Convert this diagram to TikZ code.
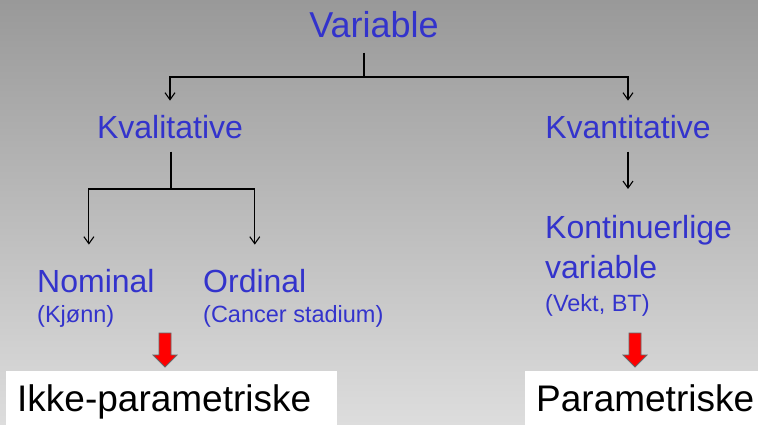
\documentclass[tikz,border=0pt]{standalone}
\usepackage{fontspec}
\setmainfont{Liberation Sans}
\usepackage{tikz}
\usetikzlibrary{arrows.meta}
\definecolor{blue500}{HTML}{3333CC}
\definecolor{gray400}{HTML}{999999}
\definecolor{gray200}{HTML}{DDDDDD}
\definecolor{red500}{HTML}{FF0000}
\tikzstyle{tittel}=[text=blue500, inner sep=0pt, anchor=base, font=\fontsize{36}{42}\selectfont]
\tikzstyle{gruppe}=[text=blue500, inner sep=0pt, font=\fontsize{32}{40}\selectfont]
\tikzstyle{eksempel}=[text=blue500, inner sep=0pt, anchor=base west, font=\fontsize{23.5}{28}\selectfont]
\tikzstyle{resultat}=[fill=white, anchor=north west, inner xsep=11pt, inner ysep=0pt, minimum height=54pt, text depth=0pt, align=left, font=\fontsize{37}{42}\selectfont]
\tikzstyle{linje}=[draw=black, line width=1.1pt]
\tikzstyle{pil}=[linje, -{Straight Barb[length=7pt, width=10pt]}]
\tikzstyle{rodpil}=[fill=red500, draw=black!60, line width=0.8pt]

\begin{document}
\begin{tikzpicture}[x=1pt, y=-1pt]
		\useasboundingbox (0,0) rectangle (758,425);
		\shade[top color=gray400, bottom color=gray200] (0,0) rectangle (758,425);
		% tekster
		\node[tittel](var) at (374,38) {Variable};
		\node[gruppe, anchor=base](kval) at (170,139) {Kvalitative};
		\node[gruppe, anchor=base](kvant) at (628,139) {Kvantitative};
		\node[gruppe, anchor=base west](nom) at (37,292) {Nominal};
		\node[gruppe, anchor=base west](ord) at (203,292) {Ordinal};
		\node[gruppe, anchor=north west, align=left](kont) at (545,215) {Kontinuerlige\\variable};
		\node[eksempel](kjonn) at (37,322) {(Kjønn)};
		\node[eksempel](stadium) at (203,322) {(Cancer stadium)};
		\node[eksempel](vekt) at (545,311) {(Vekt, BT)};
		\node[resultat, text width=309pt](ikkepar) at (6,371) {Ikke-parametriske};
		\node[resultat, text width=211pt](par) at (525,371) {Parametriske};
		% piler
		\coordinate (var-split) at (364,77);
		\coordinate (kval-split) at (171,189);
		\path[linje, shorten <=14pt] (var.south -| var-split) -- (var-split);
		\path[pil] (var-split) -| ([yshift=15pt]kval.north);
		\path[pil] (var-split) -| ([yshift=15pt]kvant.north);
		\path[linje, shorten <=12pt] (kval.south -| kval-split) -- (kval-split);
		\path[pil] (kval-split) -| ([xshift=-7pt, yshift=24pt]nom.north);
		\path[pil] (kval-split) -| ([yshift=24pt]ord.north);
		\path[pil, shorten <=12pt, shorten >=26pt] (kvant.south) -- (kvant.south |- kont.north);
		% røde piler
		\foreach \x in {165,635}
			\draw[rodpil] (\x-6,333) -- (\x+6,333) -- (\x+6,355) -- (\x+12,355) -- (\x,367) -- (\x-12,355) -- (\x-6,355) -- cycle;
	\end{tikzpicture}
\end{document}
